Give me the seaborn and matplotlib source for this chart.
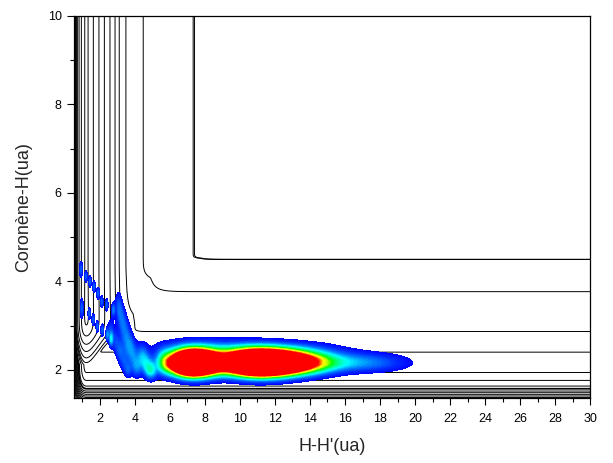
import numpy as np
import matplotlib
matplotlib.use("Agg")
import matplotlib.pyplot as plt
import seaborn as sns
from matplotlib.colors import LinearSegmentedColormap
from matplotlib.ticker import MultipleLocator

# potential surface (eV, bohr) - parameters
hh_morse = [4.75, 1.0, 1.22]        # depth, steepness, r_eq  for H-H'
ch_morse = [1.45, 1.237, 2.138]     # depth, steepness, r_eq  for coronene-H
ch_cutoff = [4.0, 4.65]             # C-H interaction switched off in between
h2_surface_wall = [4.5, 2.85, 0.1]  # slope, onset, softness (H2 pushed off the surface)
corner_mix = 0.5

# contour levels (eV)
levels_bound = [-4.707, -4.234, -3.499, -2.786, -2.143, -1.664, -1.339,
                -0.939, -0.361, -0.0212, -0.0196]
levels_wall = [0.1, 0.45, 0.8, 1.2, 1.65, 2.1, 2.6, 3.1, 3.7, 4.3,
               5.0, 6.0, 7.0, 8.5, 10.0]

# wave packet in the entrance channel (gaussian pieces)
packet_x = [5.6, 7.3, 11.0, 13.5, 17.2, 8.0, 13.0]
packet_y = [2.16, 2.145, 2.145, 2.15, 2.16, 2.50, 2.45]
packet_sx = [0.35, 1.0, 1.5, 1.5, 2.0, 2.5, 2.5]
packet_sy = [0.22, 0.213, 0.213, 0.20, 0.17, 0.20, 0.18]
packet_amp = [0.15, 1.35, 1.3, 0.5, 0.24, 0.14, 0.12]

# reflected / product fringes near the corner
fringe_x = [0.92, 1.20, 1.43, 1.66, 1.89, 2.10, 2.38, 2.76,
            0.96, 1.39, 1.62, 1.85, 2.13, 2.42, 2.63,
            3.05, 3.22, 3.42, 3.65, 3.88, 4.10,
            2.60, 2.85, 3.10, 3.35, 3.60,
            4.40, 4.70, 4.95]
fringe_y = [4.27, 4.11, 4.00, 3.88, 3.73, 3.54, 3.47, 3.36,
            3.39, 3.28, 3.13, 2.98, 2.90, 2.79, 2.68,
            3.50, 3.20, 2.90, 2.60, 2.30, 2.02,
            2.95, 2.70, 2.45, 2.20, 1.98,
            2.30, 2.08, 1.95]
fringe_sx = [0.07, 0.065, 0.065, 0.065, 0.065, 0.07, 0.07, 0.075,
             0.075, 0.065, 0.065, 0.065, 0.07, 0.07, 0.075,
             0.15, 0.19, 0.21, 0.22, 0.22, 0.20,
             0.13, 0.15, 0.16, 0.17, 0.15,
             0.22, 0.22, 0.22]
fringe_sy = [0.15, 0.11, 0.11, 0.11, 0.11, 0.11, 0.11, 0.12,
             0.19, 0.11, 0.11, 0.11, 0.11, 0.11, 0.12,
             0.24, 0.24, 0.24, 0.24, 0.24, 0.18,
             0.18, 0.20, 0.20, 0.20, 0.14,
             0.22, 0.20, 0.15]
fringe_amp = [0.22] * 15 + [0.16] * 6 + [0.15] * 5 + [0.19] * 3

x_range = [0.49, 30]
y_range = [1.36, 10]

rainbow_stops = [0.0, 0.15, 0.3, 0.45, 0.58, 0.68, 0.78, 0.86, 0.93, 1.0]
rainbow = ["#0000ff", "#0030ff", "#0080ff", "#00ffff", "#00ff80",
           "#00ff00", "#c0ff00", "#ffff00", "#ff8000", "#ff0000"]
density_floor = 0.1
density_top = 0.62


def morse(r, depth, steep, r_eq):
    u = 1.0 - np.exp(-steep * (r - r_eq))
    return depth * (u ** 2 - 1.0)


def gauss_sum(X, Y, xs, ys, sxs, sys_, amps):
    z = np.zeros_like(X)
    for x0, y0, sx, sy, a in zip(xs, ys, sxs, sys_, amps):
        z += a * np.exp(-(X - x0) ** 2 / (2 * sx ** 2) - (Y - y0) ** 2 / (2 * sy ** 2))
    return z


x = np.linspace(x_range[0], x_range[1], 1200)
y = np.linspace(y_range[0], y_range[1], 700)
X, Y = np.meshgrid(x, y)

# two valleys: H2 + coronene and H + H-coronene
e_hh = morse(X, *hh_morse)
e_ch = morse(Y, *ch_morse)
t = np.clip((Y - ch_cutoff[0]) / (ch_cutoff[1] - ch_cutoff[0]), 0, 1)
e_ch_sw = e_ch * 0.5 * (1 + np.cos(np.pi * t))
wall_hh = np.where(X < hh_morse[2], e_hh + hh_morse[0], 0.0)
wall_ch = np.where(Y < ch_morse[2], e_ch + ch_morse[0], 0.0)
slope, onset, soft = h2_surface_wall
push = slope * soft * np.logaddexp(0, (onset - Y) / soft)

v_a = e_hh + push + wall_ch
v_b = e_ch_sw + wall_hh
weight = 1 / (1 + np.exp(-(Y - 2.75) / 0.1))
delta = corner_mix * weight * 2 * np.minimum(-np.minimum(v_a, 0), -np.minimum(v_b, 0))
V = 0.5 * (v_a + v_b) - 0.5 * np.sqrt((v_a - v_b) ** 2 + delta ** 2)

density = gauss_sum(X, Y, packet_x, packet_y, packet_sx, packet_sy, packet_amp)
density += gauss_sum(X, Y, fringe_x, fringe_y, fringe_sx, fringe_sy, fringe_amp)

sns.set_style("ticks")
plt.rcParams['font.family'] = ['Liberation Sans', 'DejaVu Sans']

fig = plt.figure(figsize=(6.13, 4.63), dpi=100)
ax = fig.add_axes([0.12, 0.14, 0.8425, 0.826])

ax.contour(X, Y, V, levels=levels_bound + levels_wall, colors='black',
           linewidths=0.7, linestyles='solid', negative_linestyles='solid',
           zorder=1)

cmap = LinearSegmentedColormap.from_list("rainbow_origin",
                                         list(zip(rainbow_stops, rainbow)))
cmap.set_over("#ff0000")
ax.contourf(X, Y, density, levels=np.linspace(density_floor, density_top, 41),
            cmap=cmap, extend='max', zorder=2)

ax.set_xlim(x_range)
ax.set_ylim(y_range)
ax.xaxis.set_major_locator(MultipleLocator(2))
ax.xaxis.set_minor_locator(MultipleLocator(1))
ax.yaxis.set_major_locator(MultipleLocator(2))
ax.yaxis.set_minor_locator(MultipleLocator(1))
ax.tick_params(which='both', direction='out', top=False, right=False,
               width=0.8, colors='black', labelsize=9)
ax.tick_params(which='major', length=5)
ax.tick_params(which='minor', length=3)
ax.tick_params(axis='x', which='major', pad=6)
for s in ax.spines.values():
    s.set_linewidth(0.9)
    s.set_color('black')

ax.set_xlabel("H-H'(ua)", fontsize=13, labelpad=9)
ax.set_ylabel("Coronène-H(ua)", fontsize=13, labelpad=11)

fig.savefig("out.png", dpi=100)
